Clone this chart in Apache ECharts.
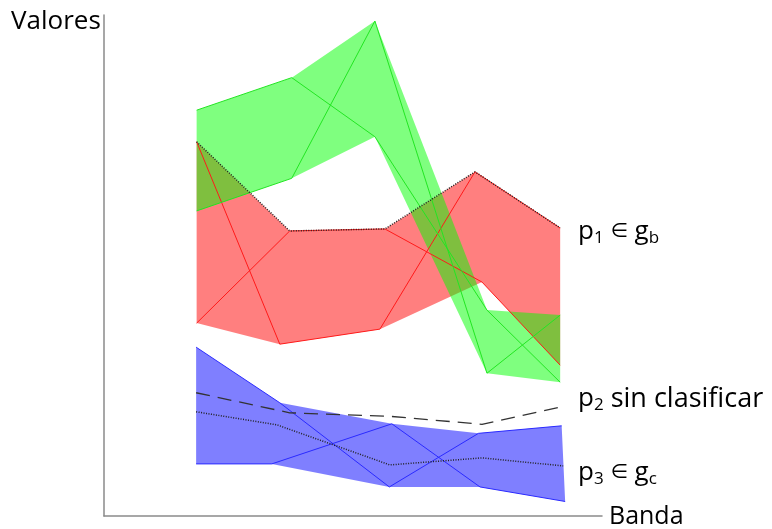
<!DOCTYPE html>
<html>
<head>
<meta charset="utf-8">
<script src="https://cdn.jsdelivr.net/npm/echarts@6/dist/echarts.min.js"></script>
<style>
html,body{margin:0;padding:0;background:#ffffff;}
#chart{width:772px;height:529px;}
</style>
</head>
<body>
<div id="chart"></div>
<script>
// ---- Data (Banda, Valores) ----
// group g (green): two profiles and their envelope
const greenLine1 = [[18.6, 81.0], [37.7, 87.5], [54.4, 75.7], [76.9, 41.1], [91.6, 26.7]];
const greenLine2 = [[18.6, 60.9], [37.7, 67.4], [54.4, 98.8], [76.9, 28.5], [91.6, 40.1]];
const greenUpper = [[18.6, 81.0], [37.7, 87.5], [54.4, 98.8], [76.9, 41.1], [91.6, 40.1]];
const greenLower = [[18.6, 60.9], [37.7, 67.4], [54.4, 75.7], [76.9, 28.5], [91.6, 26.7]];

// group gb (red)
const redLine1 = [[18.6, 74.7], [35.3, 34.3], [55.4, 37.3], [74.5, 68.7], [91.6, 57.5]];
const redLine2 = [[18.6, 38.5], [37.3, 56.9], [56.4, 57.3], [75.9, 46.7], [91.6, 30.1]];
const redUpper = [[18.6, 74.7], [37.3, 56.9], [56.4, 57.3], [74.5, 68.7], [91.6, 57.5]];
const redLower = [[18.6, 38.5], [35.3, 34.3], [55.4, 37.3], [75.9, 46.7], [91.6, 30.1]];

// group gc (blue)
const blueLine1 = [[18.5, 33.7], [35.3, 22.6], [57.3, 5.8], [75.2, 16.5], [91.9, 18.0]];
const blueLine2 = [[18.5, 10.4], [33.7, 10.4], [57.8, 18.4], [75.5, 5.8], [92.6, 2.9]];
const blueUpper = [[18.5, 33.7], [35.3, 22.6], [57.8, 18.4], [75.2, 16.5], [91.9, 18.0]];
const blueLower = [[18.5, 10.4], [33.7, 10.4], [57.3, 5.8], [75.5, 5.8], [92.6, 2.9]];

// pixels p1, p2, p3
const p1Values = [[18.6, 74.7], [37.3, 56.9], [56.4, 57.3], [74.5, 68.7], [91.6, 57.5]];
const p2Values = [[18.5, 24.6], [37.3, 20.6], [57.4, 19.9], [75.9, 18.3], [92.0, 21.8]];
const p3Values = [[18.5, 20.8], [34.7, 18.2], [57.4, 10.2], [75.9, 11.6], [92.2, 10.0]];

// texts
const yAxisName = 'Valores';
const xAxisName = 'Banda';
const labelP1 = ['p', '1', '\u2208', 'g', 'b'];
const labelP2 = ['p', '2', 'sin clasificar'];
const labelP3 = ['p', '3', '\u2208', 'g', 'c'];

// ---- Chart ----
const chart = echarts.init(document.getElementById('chart'), null, {renderer: 'canvas'});

function bandSeries(upper, lower, color, z) {
  const poly = upper.concat(lower.slice().reverse());
  return {
    type: 'custom',
    silent: true,
    clip: false,
    z: z,
    data: poly,
    encode: {x: 0, y: 1},
    renderItem: function (params, api) {
      if (params.dataIndex !== 0) return null;
      const pts = poly.map(function (p) { return api.coord(p); });
      return {type: 'polygon', shape: {points: pts}, style: {fill: color, stroke: null}};
    }
  };
}

function lineSeries(data, color, width, type, z) {
  return {
    type: 'line',
    data: data,
    symbol: 'none',
    silent: true,
    clip: false,
    z: z,
    lineStyle: {color: color, width: width, type: type}
  };
}

const FONT = 'Open Sans';
const rich = {
  m: {fontSize: 26, fontFamily: FONT, lineHeight: 30, color: '#000'},
  w: {fontSize: 27, fontFamily: FONT, lineHeight: 30, color: '#000'},
  s: {fontSize: 17, fontFamily: FONT, lineHeight: 17, verticalAlign: 'bottom', color: '#000'},
  e: {fontSize: 20, fontFamily: 'DejaVu Sans', lineHeight: 30, color: '#000'}
};

function labelText(parts) {
  if (parts.length === 3) {
    return '{m|' + parts[0] + '}{s|' + parts[1] + '}{w| ' + parts[2] + '}';
  }
  return '{m|' + parts[0] + '}{s|' + parts[1] + '}{m| }{e|' + parts[2] + '}{m| ' + parts[3] + '}{s|' + parts[4] + '}';
}

const option = {
  animation: false,
  backgroundColor: '#ffffff',
  grid: {left: 104, right: 170, top: 15, bottom: 13, containLabel: false},
  xAxis: {
    type: 'value', min: 0, max: 100,
    axisLine: {show: true, lineStyle: {color: '#8a8a8a', width: 1.5}},
    axisTick: {show: false}, axisLabel: {show: false}, splitLine: {show: false}
  },
  yAxis: {
    type: 'value', min: 0, max: 100,
    axisLine: {show: true, lineStyle: {color: '#8a8a8a', width: 1.5}},
    axisTick: {show: false}, axisLabel: {show: false}, splitLine: {show: false}
  },
  series: [
    bandSeries(redUpper, redLower, 'rgba(255,0,0,0.5)', 1),
    bandSeries(greenUpper, greenLower, 'rgba(0,255,0,0.5)', 1),
    bandSeries(blueUpper, blueLower, 'rgba(0,0,255,0.5)', 1),
    lineSeries(redLine1, '#ff1a1a', 1, 'solid', 3),
    lineSeries(redLine2, '#ff1a1a', 1, 'solid', 3),
    lineSeries(greenLine1, '#22e622', 1, 'solid', 3),
    lineSeries(greenLine2, '#22e622', 1, 'solid', 3),
    lineSeries(blueLine1, '#2a2aff', 1, 'solid', 3),
    lineSeries(blueLine2, '#2a2aff', 1, 'solid', 3),
    lineSeries(p1Values, '#222222', 1.5, [1, 1.5], 4),
    lineSeries(p2Values, '#333333', 1.3, [14, 8], 4),
    lineSeries(p3Values, '#222222', 1.5, [1, 1.5], 4)
  ],
  graphic: [
    {type: 'text', x: 11, y: 7, silent: true,
      style: {text: yAxisName, fontSize: 26, fontFamily: FONT, lineHeight: 30, fill: '#000', verticalAlign: 'top', align: 'left'}},
    {type: 'text', x: 609, y: 502, silent: true,
      style: {text: xAxisName, fontSize: 25, fontFamily: FONT, lineHeight: 30, fill: '#000', verticalAlign: 'top', align: 'left'}},
    {type: 'text', x: 578, y: 217, silent: true,
      style: {text: labelText(labelP1), rich: rich, verticalAlign: 'top', align: 'left'}},
    {type: 'text', x: 578, y: 384, silent: true,
      style: {text: labelText(labelP2), rich: rich, verticalAlign: 'top', align: 'left'}},
    {type: 'text', x: 578, y: 458, silent: true,
      style: {text: labelText(labelP3), rich: rich, verticalAlign: 'top', align: 'left'}}
  ]
};

chart.setOption(option);
</script>
</body>
</html>
